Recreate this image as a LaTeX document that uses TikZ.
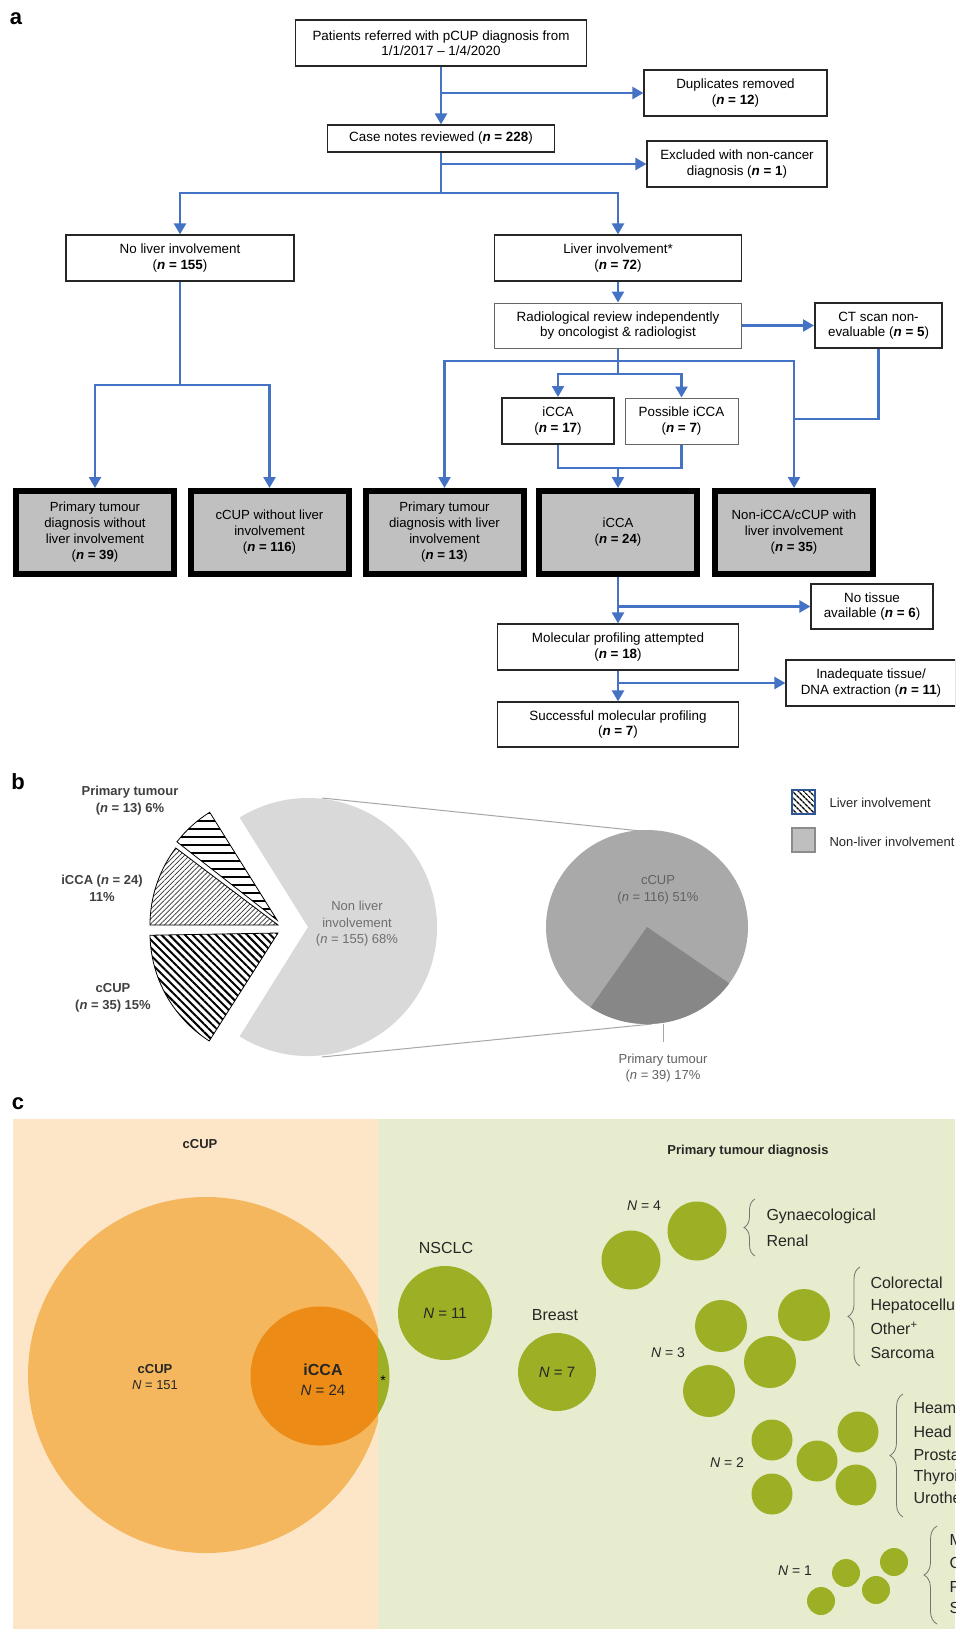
\documentclass[tikz,border=0pt]{standalone}
\usepackage{fontspec}
\setmainfont{Liberation Sans}
\usetikzlibrary{arrows.meta,patterns.meta,decorations.pathreplacing,calc}
\definecolor{flowblue}{RGB}{68,114,196}
\definecolor{boxgrey}{RGB}{192,192,192}
\definecolor{piegrey}{RGB}{217,217,217}
\definecolor{cupgrey}{RGB}{169,169,169}
\definecolor{ptgrey}{RGB}{135,135,135}
\definecolor{legblue}{RGB}{47,85,151}
\definecolor{peach}{RGB}{253,229,200}
\definecolor{greenbg}{RGB}{232,236,206}
\definecolor{olive}{RGB}{157,175,36}
\definecolor{orangeA}{RGB}{245,183,94}
\definecolor{orangeB}{RGB}{236,140,23}
\definecolor{txtgrey}{RGB}{110,110,110}
\newcommand{\fs}[2]{\fontsize{#1}{#2}\selectfont}
\newcommand{\nval}[1]{(\textbf{\textit{n} = #1})}
\begin{document}
\begin{tikzpicture}[x=1pt,y=-1pt,
  fbox/.style={draw=black!85, line width=1.2pt, fill=white, align=center, inner sep=0pt, font=\fs{13.4}{15.5}},
  tbox/.style={draw=black, line width=6pt, fill=boxgrey, align=center, inner sep=0pt, minimum width=158pt, minimum height=83pt, font=\fs{13.2}{16}},
  flow/.style={draw=flowblue, line width=2.4pt},
  arr/.style={flow, -{Triangle[length=11pt,width=12pt]}},
  panel/.style={font=\bfseries\fs{22}{22}},
  blab/.style={font=\bfseries\fs{13}{17}, text=black!75, align=center},
  glab/.style={font=\fs{13}{16.5}, text=txtgrey, align=center},
  clab/.style={font=\fs{16}{16}, text=black!85},
  nlab/.style={font=\fs{14}{14}, text=black!85},
  brc/.style={decorate, draw=black!55, line width=0.8pt},
  conn/.style={draw=black!35, line width=1pt}
]
\path[use as bounding box] (0,0) rectangle (955,1629);
\clip (0,0) rectangle (955,1629);
\fill[white] (0,0) rectangle (955,1629);

% ---------------- panel a ----------------
\node[panel] (la) at (16,19) {a};
\node[fbox, minimum width=291pt, minimum height=46pt] (p1) at (441,43) {Patients referred with pCUP diagnosis from\\1/1/2017 – 1/4/2020};
\node[fbox, minimum width=183pt, minimum height=46pt] (dup) at (735.5,93) {Duplicates removed\\\nval{12}};
\node[fbox, minimum width=227pt, minimum height=27pt] (cn) at (441,138.5) {Case notes reviewed \nval{228}};
\node[fbox, minimum width=180pt, minimum height=46pt] (exc) at (737,164) {Excluded with non-cancer\\diagnosis \nval{1}};
\node[fbox, minimum width=228pt, minimum height=46pt] (nol) at (180,258) {No liver involvement\\\nval{155}};
\node[fbox, minimum width=247pt, minimum height=46pt] (liv) at (618,258) {Liver involvement*\\\nval{72}};
\node[fbox, draw=black!60, line width=1pt, minimum width=247pt, minimum height=45pt] (rad) at (618,325.5) {Radiological review independently\\by oncologist \& radiologist};
\node[fbox, line width=2pt, minimum width=127pt, minimum height=45pt] (ct) at (878.5,325.5) {CT scan non-\\evaluable \nval{5}};
\node[fbox, line width=2pt, minimum width=112pt, minimum height=46pt] (ic17) at (558,421) {iCCA\\\nval{17}};
\node[fbox, draw=black!60, line width=1pt, minimum width=113pt, minimum height=46pt] (pic) at (681.5,421) {Possible iCCA\\\nval{7}};

\node[tbox] (b1) at (95,532.5) {Primary tumour\\diagnosis without\\liver involvement\\\nval{39}};
\node[tbox] (b2) at (269.5,532.5) {cCUP without liver\\involvement\\\nval{116}};
\node[tbox] (b3) at (444.5,532.5) {Primary tumour\\diagnosis with liver\\involvement\\\nval{13}};
\node[tbox] (b4) at (618,532.5) {iCCA\\\nval{24}};
\node[tbox] (b5) at (794,532.5) {Non-iCCA/cCUP with\\liver involvement\\\nval{35}};

\node[fbox, minimum width=241pt, minimum height=46pt] (mol) at (618,647) {Molecular profiling attempted\\\nval{18}};
\node[fbox, minimum width=122pt, minimum height=45pt] (notis) at (872,606.5) {No tissue\\available \nval{6}};
\node[fbox, minimum width=170pt, minimum height=46pt] (inad) at (871,683) {Inadequate tissue/\\DNA extraction \nval{11}};
\node[fbox, minimum width=241pt, minimum height=45pt] (succ) at (618,724.5) {Successful molecular profiling\\\nval{7}};

\draw[arr] (p1.south) -- (p1.south |- cn.north);
\draw[arr] (p1.south |- dup.west) -- (dup.west);
\draw[arr] (cn.south |- exc.west) -- (exc.west);
\coordinate (j1) at (441,193);
\draw[flow] (cn.south) -- (j1);
\draw[arr] (j1) -| (nol.north);
\draw[arr] (j1) -| (liv.north);
\coordinate (j2) at (180,385);
\draw[flow] (nol.south) -- (j2);
\draw[arr] (j2) -| (b1.north);
\draw[arr] (j2) -| (b2.north);
\draw[arr] (liv.south) -- (rad.north);
\draw[arr] (rad.east) -- (ct.west);
\coordinate (j3) at (618,361);
\coordinate (j4) at (618,374);
\draw[flow] (rad.south) -- (j4);
\draw[arr] (j3) -| (b3.north);
\draw[arr] (j3) -| (b5.north);
\draw[arr] (j4) -| (ic17.north);
\draw[arr] (j4) -| (pic.north);
\coordinate (j5) at (794,419);
\draw[flow] (ct.south) |- (j5);
\coordinate (j6) at (618,468);
\draw[flow] (ic17.south) |- (j6) -| (pic.south);
\draw[arr] (j6) -- (b4.north);
\draw[arr] (b4.south) -- (mol.north);
\draw[arr] (b4.south |- notis.west) -- (notis.west);
\draw[arr] (mol.south) -- (succ.north);
\draw[arr] (mol.south |- inad.west) -- (inad.west);

% ---------------- panel b ----------------
\node[panel] (lb) at (18,782) {b};
\coordinate (lt) at (322,798);
\coordinate (rt) at (641,831);
\coordinate (lbt) at (322,1057);
\coordinate (rbt) at (652,1024);
\draw[conn] (lt) -- (rt);
\draw[conn] (lbt) -- (rbt);

\fill[piegrey] (308,927) -- +(-122:129pt) arc[start angle=-122,end angle=122,radius=129pt] -- cycle;
\draw[black, line width=0.8pt, pattern={Lines[angle=0,distance=8pt,line width=2pt]}]
  (277,920) -- +(122:127pt) arc[start angle=122,end angle=142,radius=127pt] -- cycle;
\draw[black, line width=0.8pt, pattern={Lines[angle=45,distance=3.5pt,line width=0.7pt]}, pattern color=black!80]
  (278,925) -- +(143:128pt) arc[start angle=143,end angle=180,radius=128pt] -- cycle;
\draw[black, line width=0.8pt, pattern={Lines[angle=-45,distance=5.5pt,line width=2pt]}]
  (278,933) -- +(181:128pt) arc[start angle=181,end angle=237.5,radius=128pt] -- cycle;

\fill[cupgrey] (647,927) ellipse[x radius=101pt, y radius=97pt];
\fill[ptgrey] (647,927) -- +(-124:101pt and 97pt) arc[start angle=-124,end angle=-35.5,x radius=101pt,y radius=97pt] -- cycle;
\coordinate (ld1) at (663,1024);
\coordinate (ld2) at (663,1042);
\draw[conn] (ld1) -- (ld2);

\node[blab] (tpt) at (130,801) {Primary tumour\\(\textit{n} = 13) 6\%};
\node[blab] (tic) at (102,888) {iCCA (\textit{n} = 24)\\11\%};
\node[blab] (tcu) at (113,997.5) {cCUP\\(\textit{n} = 35) 15\%};
\node[glab] (tnl) at (357,924) {Non liver\\involvement\\(\textit{n} = 155) 68\%};
\node[glab, text=black!62] (tcc) at (658,890) {cCUP\\(\textit{n} = 116) 51\%};
\node[glab, text=black!62] (tpr) at (663,1068) {Primary tumour\\(\textit{n} = 39) 17\%};

\draw[draw=legblue, line width=1.5pt, pattern={Lines[angle=-45,distance=4pt,line width=1.5pt]}] (792,790) rectangle (815,814);
\draw[draw=black!45, line width=2pt, fill=black!25] (792,828) rectangle (815,852);
\node[font=\fs{13}{13}, text=black!85, anchor=west] (lg1) at (826,803) {Liver involvement};
\node[font=\fs{13}{13}, text=black!85, anchor=west] (lg2) at (826,842) {Non-liver involvement};

% ---------------- panel c ----------------
\node[panel] (lc) at (18,1104) {c};
\fill[peach] (13,1119) rectangle (378,1629);
\fill[greenbg] (378,1119) rectangle (955,1629);
\begin{scope}
  \clip (0,1100) rectangle (378,1629);
  \fill[orangeA] (206,1375) circle[radius=178pt];
  \fill[orangeB] (320,1376) circle[radius=69.5pt];
\end{scope}
\begin{scope}
  \clip (378,1300) rectangle (420,1460);
  \fill[olive] (320,1376) circle[radius=69.5pt];
\end{scope}
\node[font=\fs{14}{14}, inner sep=0pt] (ast) at (383,1381) {*};

\node[font=\bfseries\fs{13}{13}, text=black!85] (hc) at (200,1144) {cCUP};
\node[font=\bfseries\fs{13}{13}, text=black!85] (hp) at (748,1151) {Primary tumour diagnosis};
\node[font=\fs{13}{16}, text=black!85, align=center] (tcup) at (155,1377) {\textbf{cCUP}\\\textit{N} = 151};
\node[font=\bfseries\fs{16}{16}, text=black!85] (ticca) at (323,1370) {iCCA};
\node[font=\fs{15}{15}, text=black!85] (ticcan) at (323,1390) {\textit{N} = 24};

\fill[olive] (445,1313) circle[radius=47pt];
\fill[olive] (557,1372) circle[radius=39pt];
\foreach \p in {(697,1231),(631,1260)} \fill[olive] \p circle[radius=29.5pt];
\foreach \p in {(721,1326),(804,1315),(770,1362),(709,1391)} \fill[olive] \p circle[radius=26pt];
\foreach \p in {(772,1440),(858,1432),(817,1461),(772,1494),(856,1485)} \fill[olive] \p circle[radius=20.5pt];
\foreach \p in {(846,1573),(894,1562),(876,1590),(821,1601)} \fill[olive] \p circle[radius=14pt];

\node[clab] (tns) at (446,1248) {NSCLC};
\node[font=\fs{15}{15}, text=black!85] (tns2) at (445,1313) {\textit{N} = 11};
\node[clab] (tbr) at (555,1315) {Breast};
\node[font=\fs{15}{15}, text=black!85] (tbr2) at (557,1372) {\textit{N} = 7};
\node[nlab] (n4) at (644,1206) {\textit{N} = 4};
\node[nlab] (n3) at (668,1353) {\textit{N} = 3};
\node[nlab] (n2) at (727,1463) {\textit{N} = 2};
\node[nlab] (n1) at (795,1571) {\textit{N} = 1};

\draw[brc, decoration={brace, amplitude=11pt}] (755,1256) -- (755,1199);
\draw[brc, decoration={brace, amplitude=12pt}] (860,1366) -- (860,1267);
\draw[brc, decoration={brace, amplitude=13pt}] (903,1517) -- (903,1394);
\draw[brc, decoration={brace, amplitude=13pt}] (937,1624) -- (937,1526);

\node[clab, anchor=west] (g1) at (763,1216) {Gynaecological};
\node[clab, anchor=west] (g2) at (763,1241) {Renal};
\node[clab, anchor=west] (g3) at (867,1283) {Colorectal};
\node[clab, anchor=west] (g4) at (867,1306) {Hepatocellular};
\node[clab, anchor=west] (g5) at (867,1328) {Other\textsuperscript{+}};
\node[clab, anchor=west] (g6) at (867,1353) {Sarcoma};
\node[clab, anchor=west] (g7) at (910,1409) {Heamatological};
\node[clab, anchor=west] (g8) at (910,1432) {Head and neck};
\node[clab, anchor=west] (g9) at (910,1455) {Prostate};
\node[clab, anchor=west] (g10) at (910,1477) {Thyroid};
\node[clab, anchor=west] (g11) at (910,1498) {Urothelial};
\node[clab, anchor=west] (g12) at (946,1540) {M};
\node[clab, anchor=west] (g13) at (946,1563) {C};
\node[clab, anchor=west] (g14) at (946,1587) {P};
\node[clab, anchor=west] (g15) at (946,1608) {S};
\end{tikzpicture}
\end{document}
